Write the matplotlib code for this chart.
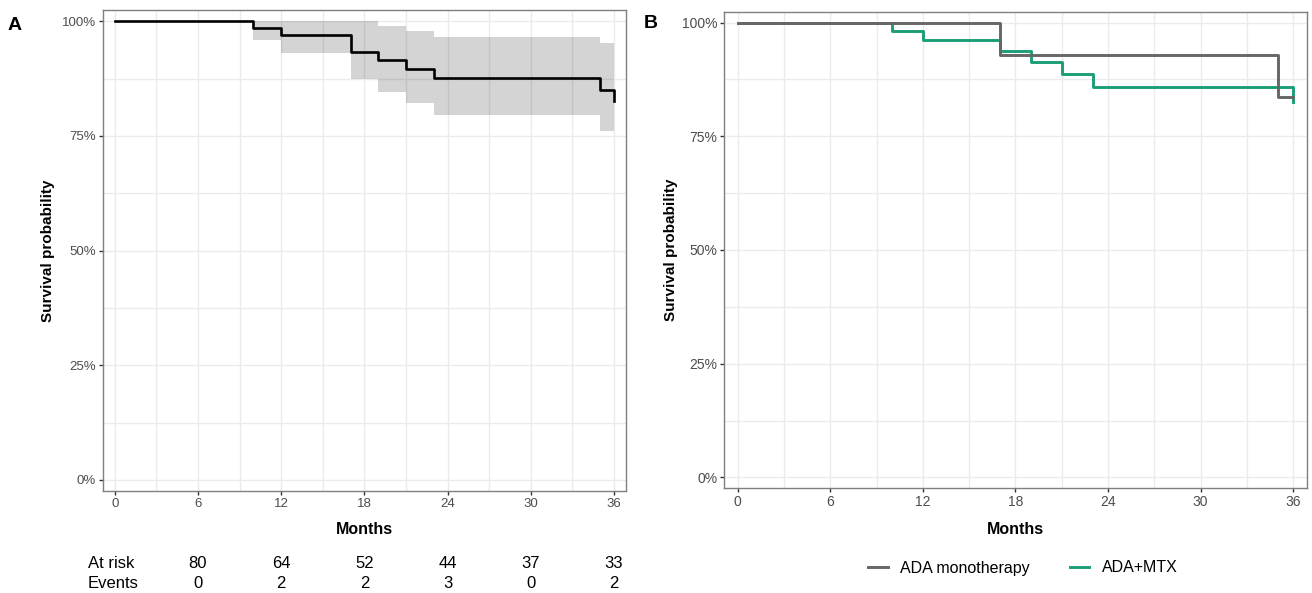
import matplotlib.pyplot as plt
import matplotlib.transforms as mtransforms
import numpy as np

plt.rcParams['font.family'] = ['Liberation Sans', 'DejaVu Sans']

# panel A: overall Kaplan-Meier estimate with CI
months_a = [0, 10, 12, 17, 19, 21, 23, 35, 36]
surv_a = [1.0, 0.986, 0.971, 0.934, 0.915, 0.896, 0.877, 0.851, 0.827]
upper_a = [1.0, 1.0, 1.0, 1.0, 0.989, 0.978, 0.966, 0.953, 0.953]
lower_a = [1.0, 0.959, 0.931, 0.874, 0.847, 0.821, 0.796, 0.760, 0.760]

# risk table under panel A
table_months = [6, 12, 18, 24, 30, 36]
at_risk = [80, 64, 52, 44, 37, 33]
events = [0, 2, 2, 3, 0, 2]

# panel B: by treatment group
months_mono = [0, 17, 35, 36]
surv_mono = [1.0, 0.928, 0.836, 0.836]
months_mtx = [0, 10, 12, 17, 19, 21, 23, 36]
surv_mtx = [1.0, 0.982, 0.961, 0.937, 0.913, 0.887, 0.859, 0.825]

x_ticks = [0, 6, 12, 18, 24, 30, 36]
y_ticks = [0, 0.25, 0.5, 0.75, 1.0]
y_labels = ['0%', '25%', '50%', '75%', '100%']

grid_col = '#ebebeb'
tick_col = '#4d4d4d'


def style_axes(ax, fs, ypad):
    ax.set_xlim(-0.87, 36.87)
    ax.set_ylim(-0.024, 1.024)
    ax.set_xticks(x_ticks)
    ax.set_xticks(np.arange(3, 36, 6), minor=True)
    ax.set_yticks(y_ticks)
    ax.set_yticklabels(y_labels)
    ax.set_yticks([0.125, 0.375, 0.625, 0.875], minor=True)
    ax.grid(True, which='both', color=grid_col, lw=1.0, zorder=0)
    ax.set_axisbelow(True)
    ax.tick_params(which='major', length=3, width=1, color='#333333',
                   labelcolor=tick_col, labelsize=fs, pad=2)
    ax.tick_params(which='minor', length=0)
    for s in ax.spines.values():
        s.set_color('#7f7f7f')
        s.set_linewidth(1.0)
    ax.set_xlabel('Months', fontsize=11.5, fontweight='bold', labelpad=9)
    ax.set_ylabel('Survival probability', fontsize=11, fontweight='bold', labelpad=ypad)


fig = plt.figure(figsize=(13.12, 5.93), dpi=100)

ax1 = fig.add_axes([0.0783, 0.172, 0.3989, 0.8106])
ax1.fill_between(months_a, lower_a, upper_a, step='post', color='black',
                 alpha=0.17, lw=0, zorder=2)
ax1.step(months_a, surv_a, where='post', color='black', lw=1.9, zorder=3)
style_axes(ax1, 9.5, 5)

trans = mtransforms.blended_transform_factory(ax1.transData, fig.transFigure)
fig.text(87.5 / 1312, 1 - 563 / 593, 'At risk', fontsize=12, va='center', ha='left')
fig.text(87.5 / 1312, 1 - 583 / 593, 'Events', fontsize=12, va='center', ha='left')
for m, r, e in zip(table_months, at_risk, events):
    ax1.text(m, 1 - 563 / 593, str(r), transform=trans, fontsize=12,
             ha='center', va='center')
    ax1.text(m, 1 - 583 / 593, str(e), transform=trans, fontsize=12,
             ha='center', va='center')

ax2 = fig.add_axes([0.552, 0.1766, 0.4439, 0.8037])
ax2.step(months_mtx, surv_mtx, where='post', color='#1b9e77', lw=2.1,
         label='ADA+MTX', zorder=3)
ax2.step(months_mono, surv_mono, where='post', color='#666666', lw=2.1,
         label='ADA monotherapy', zorder=4)
style_axes(ax2, 10, 3)

h, l = ax2.get_legend_handles_labels()
fig.legend(h[::-1], l[::-1], loc='center', bbox_to_anchor=(1023 / 1312, 1 - 568 / 593),
           ncol=2, frameon=False, fontsize=11.5, handlelength=1.2,
           columnspacing=2.5, handletextpad=0.8)

fig.text(8 / 1312, 1 - 25 / 593, 'A', fontsize=14, fontweight='bold', va='center')
fig.text(644 / 1312, 1 - 24 / 593, 'B', fontsize=14, fontweight='bold', va='center')

fig.savefig('out.png', dpi=100)
